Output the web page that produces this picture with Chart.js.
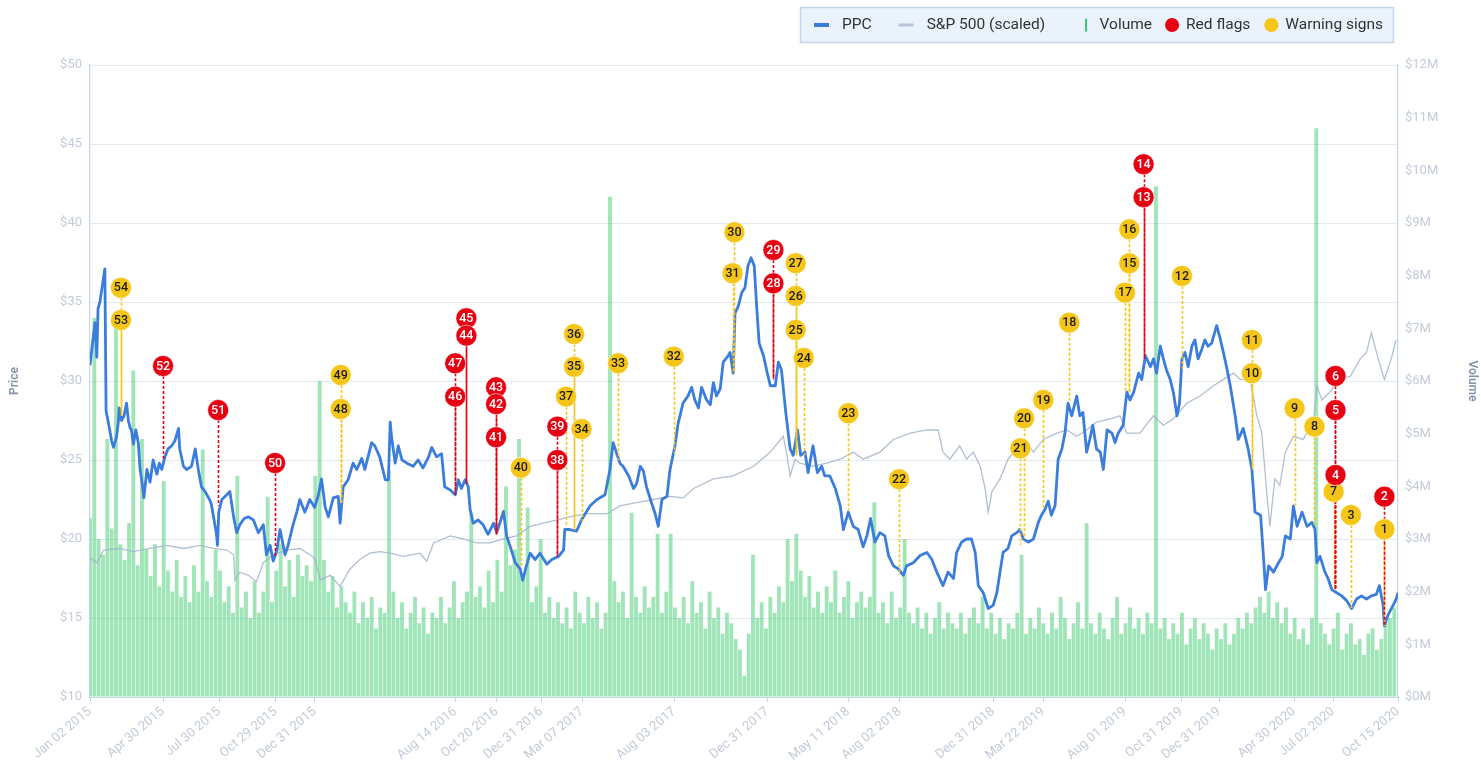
<!DOCTYPE html>
<html>
<head>
<meta charset="utf-8">
<script src="https://cdn.jsdelivr.net/npm/chart.js@4.4.1/dist/chart.umd.min.js"></script>
<style>
html,body{margin:0;padding:0;background:#ffffff;}
#wrap{width:1481px;height:765px;position:relative;}
canvas{display:block;}
</style>
</head>
<body>
<div id="wrap"><canvas id="c" width="1481" height="765"></canvas></div>
<script>
// ---------------- DATA (days counted from 2015-01-02) ----------------
const startDate = '2015-01-02';
const endDay = 2113; // 2020-10-15

const xTickDates = ['2015-01-02','2015-04-30','2015-07-30','2015-10-29','2015-12-31','2016-08-14','2016-10-20','2016-12-31','2017-03-07','2017-08-03','2017-12-31','2018-05-11','2018-08-02','2018-12-31','2019-03-22','2019-08-01','2019-10-31','2019-12-31','2020-04-30','2020-07-02','2020-10-15'];
const xTickLabels = ['Jan 02 2015','Apr 30 2015','Jul 30 2015','Oct 29 2015','Dec 31 2015','Aug 14 2016','Oct 20 2016','Dec 31 2016','Mar 07 2017','Aug 03 2017','Dec 31 2017','May 11 2018','Aug 02 2018','Dec 31 2018','Mar 22 2019','Aug 01 2019','Oct 31 2019','Dec 31 2019','Apr 30 2020','Jul 02 2020','Oct 15 2020'];

// PPC close price: [day, price]
const ppcPoints = [
[0,31.0],[8,33.7],[11,31.5],[13,34.6],[16,35.0],[19,35.8],[24,37.1],[26,28.1],[30,27.3],[35,26.2],
[38,25.8],[43,26.5],[46,27.5],[47,28.3],[51,27.5],[55,27.8],[59,28.6],[62,27.5],[65,27.0],[67,26.9],
[70,26.0],[74,26.9],[78,26.1],[81,24.4],[85,23.3],[87,22.6],[92,24.4],[97,23.6],[102,25.0],[108,24.1],
[112,24.8],[116,24.4],[121,25.2],[126,25.7],[132,25.9],[137,26.2],[143,27.0],[145,25.7],[151,24.6],[156,24.4],
[164,24.6],[170,25.7],[175,24.4],[180,23.3],[186,23.0],[193,22.5],[196,22.2],[204,20.4],[206,19.6],[208,21.7],
[213,22.5],[221,22.8],[226,23.0],[232,21.4],[237,20.4],[242,20.9],[249,21.3],[256,21.4],[264,21.2],[272,20.4],
[280,20.9],[285,19.0],[291,19.6],[296,18.6],[302,19.3],[307,20.6],[315,19.0],[320,19.6],[328,20.9],[334,21.7],
[339,22.5],[347,21.7],[355,22.5],[363,22.0],[369,22.8],[374,23.8],[380,22.0],[385,21.4],[393,22.6],[401,22.7],
[404,21.0],[409,23.3],[417,23.75],[425,24.8],[431,24.4],[439,25.1],[444,24.4],[455,26.1],[460,25.9],[468,25.2],
[477,23.75],[482,23.75],[485,27.4],[487,26.5],[493,24.8],[498,25.9],[504,25.0],[512,24.8],[522,24.6],[530,25.0],
[538,24.5],[547,25.2],[552,25.8],[560,25.2],[568,25.4],[573,23.3],[582,23.1],[590,22.8],[595,23.75],[600,23.2],
[606,23.75],[611,23.3],[614,21.9],[619,21.0],[627,21.2],[635,20.9],[643,20.3],[652,21.0],[657,20.4],[662,21.0],
[668,21.75],[673,20.2],[679,19.5],[687,18.5],[695,18.1],[699,17.4],[705,18.3],[711,19.1],[719,18.7],[727,19.1],
[738,18.4],[746,18.7],[757,18.9],[765,19.3],[767,20.6],[775,20.6],[786,20.5],[794,21.2],[800,21.6],[808,22.1],
[819,22.5],[832,22.8],[840,24.4],[845,26.1],[851,25.4],[856,24.8],[861,24.6],[870,24.0],[878,23.2],[883,23.5],
[889,24.6],[894,24.3],[899,23.3],[907,22.3],[913,21.6],[918,20.8],[924,22.5],[932,22.7],[937,24.4],[945,25.9],
[950,27.3],[958,28.6],[966,29.05],[972,29.6],[977,28.8],[983,28.3],[988,29.6],[996,28.8],[1002,28.5],[1007,29.9],
[1012,29.05],[1018,29.5],[1023,31.2],[1031,31.6],[1034,31.8],[1039,30.5],[1042,34.3],[1047,34.7],[1053,35.6],[1058,35.9],
[1063,37.3],[1068,37.8],[1073,37.3],[1077,34.7],[1081,32.4],[1088,31.6],[1093,30.7],[1099,29.7],[1107,29.7],[1112,31.2],
[1117,30.7],[1124,28.0],[1131,25.7],[1136,25.3],[1143,26.9],[1148,25.3],[1155,25.5],[1160,24.2],[1168,25.9],[1175,24.2],
[1182,24.6],[1187,24.0],[1195,24.0],[1204,23.2],[1212,22.1],[1217,20.6],[1225,21.7],[1233,20.8],[1241,20.6],[1249,19.5],
[1255,20.2],[1261,21.3],[1268,19.8],[1276,20.4],[1284,20.2],[1290,18.95],[1298,18.3],[1306,18.1],[1314,17.7],[1319,18.3],
[1330,18.5],[1341,18.95],[1352,19.15],[1360,18.7],[1368,17.9],[1378,17.05],[1386,17.9],[1395,17.5],[1400,19.15],[1408,19.8],
[1416,20.0],[1424,20.0],[1430,19.15],[1435,17.05],[1443,16.6],[1451,15.6],[1459,15.8],[1465,16.6],[1470,17.9],[1475,19.15],
[1483,19.4],[1489,20.2],[1497,20.4],[1502,20.6],[1508,20.0],[1516,19.8],[1524,20.0],[1532,21.05],[1537,21.5],[1543,21.9],
[1548,22.4],[1553,21.5],[1559,22.1],[1564,25.05],[1570,25.7],[1575,26.7],[1580,28.6],[1586,27.8],[1594,29.05],[1599,27.8],
[1604,28.0],[1610,25.5],[1615,26.3],[1620,27.2],[1626,25.7],[1632,25.5],[1637,24.4],[1643,26.9],[1651,26.7],[1656,26.1],
[1661,26.7],[1669,27.2],[1675,29.3],[1680,28.8],[1686,29.3],[1694,30.5],[1699,30.1],[1705,31.6],[1713,30.9],[1718,31.4],
[1723,30.5],[1729,32.2],[1734,31.4],[1739,30.7],[1745,30.1],[1750,29.3],[1756,27.8],[1760,28.6],[1764,31.4],[1769,31.8],
[1774,30.9],[1780,32.2],[1785,32.6],[1790,31.4],[1796,32.0],[1801,32.6],[1806,32.2],[1812,32.4],[1820,33.5],[1825,32.8],
[1831,31.8],[1836,30.9],[1842,29.7],[1850,27.8],[1855,26.3],[1863,27.0],[1871,25.7],[1877,24.4],[1882,21.7],[1891,21.5],
[1896,18.7],[1899,16.8],[1904,18.3],[1912,17.9],[1920,18.5],[1926,18.9],[1931,20.2],[1939,20.0],[1944,22.1],[1950,20.8],
[1958,21.7],[1966,20.8],[1974,21.05],[1979,20.6],[1982,18.5],[1987,18.9],[1995,17.9],[2000,17.5],[2006,16.8],[2014,16.6],
[2022,16.4],[2030,16.1],[2038,15.6],[2046,16.2],[2054,16.4],[2062,16.2],[2070,16.4],[2078,16.5],[2083,17.05],[2089,15.8],
[2091,14.5],[2097,15.2],[2105,15.8],[2110,16.2],[2113,16.6]
];

// S&P 500 rescaled to the price axis: [day, value]
const spxPoints = [
[0,18.8],[11,18.5],[22,19.3],[48,19.4],[70,19.2],[97,19.4],[124,19.6],[151,19.4],[178,19.6],[199,19.4],
[221,19.3],[232,19.0],[234,17.4],[242,17.9],[256,17.7],[269,17.3],[280,18.5],[296,19.0],[318,19.3],[339,19.4],
[355,19.0],[363,18.8],[372,17.4],[388,17.7],[404,17.0],[420,18.1],[436,18.7],[452,19.1],[468,19.2],[485,19.1],
[506,18.9],[533,19.1],[544,18.6],[555,19.75],[582,20.2],[603,20.0],[625,19.75],[646,19.75],[668,20.0],[689,20.2],
[711,20.8],[732,21.0],[754,21.2],[775,21.4],[802,21.6],[835,21.6],[856,22.1],[883,22.3],[910,22.5],[937,22.7],
[958,22.6],[975,23.2],[1007,23.8],[1039,24.0],[1072,24.6],[1099,25.5],[1120,26.5],[1125,25.5],[1131,24.0],[1139,25.05],
[1147,24.8],[1168,24.6],[1190,24.8],[1212,25.05],[1233,25.5],[1249,25.05],[1276,25.5],[1298,26.3],[1325,26.7],[1352,26.9],
[1370,26.9],[1378,25.5],[1389,25.05],[1405,25.9],[1416,25.05],[1427,25.5],[1438,24.6],[1446,23.2],[1451,21.7],[1457,23.0],
[1470,23.8],[1483,25.05],[1497,25.7],[1513,26.1],[1524,25.5],[1540,26.3],[1562,26.7],[1578,26.9],[1594,26.5],[1610,26.9],
[1626,27.4],[1648,27.6],[1664,27.8],[1675,26.7],[1696,26.7],[1718,27.8],[1734,27.2],[1750,27.6],[1772,28.6],[1793,29.05],
[1815,29.7],[1831,30.1],[1847,30.5],[1858,30.1],[1874,30.1],[1885,27.8],[1893,26.7],[1901,22.9],[1906,20.8],[1914,23.8],
[1922,23.4],[1931,25.5],[1944,26.5],[1960,26.3],[1977,27.6],[1982,29.7],[1990,28.8],[2003,29.3],[2019,30.1],[2036,30.3],
[2052,31.4],[2062,31.8],[2070,33.05],[2081,31.4],[2091,30.1],[2102,31.4],[2110,32.6]
];

// Weekly traded volume in millions, one value per week starting 2015-01-02
const volumeWeekStepDays = 7;
const volumeM = [
3.4,7.2,3.0,2.7,4.9,3.2,7.0,2.9,2.6,3.3,
6.2,2.5,4.9,2.8,2.3,2.9,2.1,4.1,2.4,2.0,
2.6,1.9,2.3,1.8,2.5,2.0,4.7,2.2,1.9,2.8,
2.4,1.8,2.1,1.6,4.2,1.7,2.0,1.5,2.2,1.6,
2.0,3.8,1.8,2.4,2.9,2.1,2.6,1.9,2.7,2.3,
2.5,2.2,4.2,6.0,2.6,2.0,2.3,1.7,2.1,1.8,
1.6,2.0,1.4,1.8,1.5,1.9,1.3,1.7,1.6,4.3,
2.0,1.5,1.8,1.3,1.6,1.9,1.4,1.7,1.2,1.6,
1.5,1.9,1.4,1.7,2.2,1.5,1.8,2.0,3.5,1.9,
2.1,1.7,2.4,1.8,2.6,2.0,4.0,2.5,2.8,4.9,
2.3,3.6,1.8,2.1,3.0,1.6,1.9,1.5,1.8,1.4,
1.7,1.3,2.0,1.6,1.4,1.9,1.5,1.8,1.3,1.6,
9.5,2.2,1.8,2.0,1.5,3.5,1.9,1.6,2.1,1.7,
1.9,3.1,1.6,2.0,3.1,1.7,1.5,1.9,1.4,2.2,
1.6,1.8,1.3,2.0,1.5,1.7,1.2,1.6,1.4,1.1,
0.9,0.4,1.2,2.7,1.5,1.8,1.3,1.9,1.6,2.1,
1.8,3.0,2.2,3.1,2.4,1.9,2.3,1.7,2.0,1.6,
2.1,1.8,2.4,1.6,1.9,2.2,1.5,1.8,2.0,1.7,
1.9,3.7,1.6,1.8,1.4,2.0,1.5,1.7,3.0,1.6,
1.4,1.7,1.3,1.6,1.2,1.5,1.8,1.3,1.6,1.4,
1.3,1.6,1.2,1.5,1.7,1.4,1.9,1.3,1.6,1.2,
1.5,1.1,1.4,1.3,1.6,2.7,1.2,1.5,1.3,1.7,
1.4,1.2,1.6,1.3,1.9,1.5,1.1,1.4,1.8,1.3,
3.3,1.4,1.2,1.6,1.3,1.1,1.5,1.9,1.2,1.4,
1.7,1.3,1.5,1.2,1.6,1.4,9.7,1.3,1.5,1.1,
1.4,1.2,1.6,1.0,1.3,1.5,1.1,1.4,1.2,0.9,
1.3,1.1,1.4,1.0,1.2,1.5,1.3,1.6,1.4,1.7,
1.9,1.6,2.0,1.5,1.8,1.4,1.7,1.2,1.5,1.1,
1.3,1.0,1.5,10.8,1.4,1.2,1.0,1.3,1.6,0.9,
1.2,1.4,1.0,1.1,0.8,1.2,1.3,0.9,1.1,1.4,
1.5,1.7
];

// Markers: [number, day, level on price axis, price where the dashed stem ends]
const redFlags = [
[52,118,30.95,25.0],[51,207,28.16,22.1],[50,299,24.81,18.8],[47,590,31.12,22.8],[46,590,29.01,22.8],
[45,608,33.97,23.5],[44,608,32.87,23.5],[43,656,29.6,20.3],[42,656,28.54,20.3],[41,656,26.44,20.3],
[39,755,27.11,18.9],[38,755,25.0,18.9],[29,1104,38.29,30.1],[28,1104,36.18,30.1],[14,1702,43.72,31.4],
[13,1702,41.63,31.4],[6,2012,30.32,16.8],[5,2012,28.16,16.8],[4,2012,24.05,16.8],[2,2091,22.68,14.5]
];
const warningSigns = [
[54,50,35.9,27.8],[53,50,33.86,27.8],[49,405,30.38,22.2],[48,405,28.23,22.2],[40,696,24.51,18.3],
[37,769,29.01,20.8],[36,782,32.97,20.6],[35,782,30.9,20.6],[34,794,26.96,21.0],[33,853,31.12,25.0],
[32,943,31.54,25.4],[31,1038,36.82,30.5],[30,1041,39.41,30.5],[27,1140,37.45,25.3],[26,1140,35.38,25.3],
[25,1140,33.23,25.3],[24,1153,31.46,25.3],[23,1225,27.96,21.8],[22,1307,23.78,17.7],[21,1503,25.74,19.6],
[20,1509,27.64,20.0],[19,1540,28.8,21.9],[18,1582,33.69,28.6],[17,1672,35.59,29.3],[16,1679,39.6,29.3],
[15,1679,37.45,29.3],[12,1764,36.65,30.7],[11,1877,32.6,24.4],[10,1877,30.49,24.4],[9,1946,28.27,22.1],
[8,1978,27.11,20.8],[7,2009,22.99,16.8],[3,2037,21.52,15.6],[1,2091,20.61,14.5]
];

const priceTicks = {min:10, max:50, step:5};
const volumeTicks = {min:0, max:12, step:1};

// ---------------- HELPERS ----------------
const DAY0 = (() => { const [y,m,d] = startDate.split('-').map(Number); return Date.UTC(y,m-1,d); })();
function dayOf(iso){ const [y,m,d] = iso.split('-').map(Number); return Math.round((Date.UTC(y,m-1,d)-DAY0)/86400000); }
const xTickDays = xTickDates.map(dayOf);
const tickLabelByDay = {};
xTickDays.forEach((d,i)=>{ tickLabelByDay[d] = xTickLabels[i]; });

const COLORS = {
  ppc:'#3b7ddd', spx:'rgba(163,180,202,0.85)', vol:'rgba(64,204,114,0.5)',
  red:'#e60012', yellow:'#f5c518', grid:'#e4e9f1', axis:'#c6d4e9', tick:'#c3cbd8', title:'#8592a8'
};

// ---------------- PLUGINS ----------------
const stemPlugin = {
  id:'stems',
  afterDatasetDraw(chart, args){
    if (chart.data.datasets[args.index].label !== 'PPC') return;
    const x = chart.scales.x, y = chart.scales.y, ctx = chart.ctx;
    ctx.save();
    ctx.setLineDash([3,2]);
    ctx.lineWidth = 1.6;
    const draw = (list, color) => {
      ctx.strokeStyle = color;
      list.forEach(m => {
        const px = Math.round(x.getPixelForValue(m[1])) + 0.5;
        ctx.beginPath();
        ctx.moveTo(px, y.getPixelForValue(m[2]));
        ctx.lineTo(px, y.getPixelForValue(m[3]));
        ctx.stroke();
      });
    };
    draw(warningSigns, COLORS.yellow);
    draw(redFlags, COLORS.red);
    ctx.restore();
  }
};

const markerTextPlugin = {
  id:'markerText',
  afterDatasetDraw(chart, args){
    const ds = chart.data.datasets[args.index];
    if (!ds.markerNums) return;
    const ctx = chart.ctx;
    ctx.save();
    ctx.font = '500 12.5px Roboto, "Open Sans", sans-serif';
    ctx.textAlign = 'center';
    ctx.textBaseline = 'middle';
    ctx.fillStyle = ds.textColor;
    args.meta.data.forEach((el, i) => {
      ctx.fillText(String(ds.markerNums[i]), el.x, el.y + 0.5);
    });
    ctx.restore();
  }
};

const legendItems = [
  {text:'PPC', kind:'dash', color:COLORS.ppc, lw:4, gapAfter:27},
  {text:'S&P 500 (scaled)', kind:'dash', color:'#b9c5d5', lw:3, gapAfter:35},
  {text:'Volume', kind:'vline', color:'#2ecc71', lw:2, gapAfter:13},
  {text:'Red flags', kind:'dot', color:COLORS.red, gapAfter:14},
  {text:'Warning signs', kind:'dot', color:COLORS.yellow, gapAfter:0}
];
const boxLegendPlugin = {
  id:'boxLegend',
  afterDraw(chart){
    const ctx = chart.ctx;
    ctx.save();
    ctx.font = '15.5px Roboto, "Open Sans", sans-serif';
    const left = 800, top = 7, h = 36, cy = top + h/2;
    let x = left + 14;
    const plan = [];
    legendItems.forEach(it => {
      const p = {it};
      if (it.kind === 'dash'){ p.sx = x; x += 15; x += 13; }
      else if (it.kind === 'vline'){ x += 6; p.sx = x; x += 13.5; }
      else { p.sx = x + 7; x += 14; x += 7; }
      p.tx = x;
      x += ctx.measureText(it.text).width;
      x += it.gapAfter;
      plan.push(p);
    });
    const right = x + 11;
    ctx.fillStyle = '#eaf2fb';
    ctx.strokeStyle = '#c6d5ea';
    ctx.lineWidth = 1.5;
    ctx.fillRect(left, top, right - left, h);
    ctx.strokeRect(left + 0.5, top + 0.5, right - left - 1, h - 1);
    plan.forEach(p => {
      const it = p.it;
      if (it.kind === 'dash'){
        ctx.fillStyle = it.color;
        ctx.fillRect(p.sx, cy - it.lw/2, 15, it.lw);
      } else if (it.kind === 'vline'){
        ctx.fillStyle = it.color;
        ctx.fillRect(p.sx - 1, cy - 6.5, it.lw, 13);
      } else {
        ctx.fillStyle = it.color;
        ctx.beginPath(); ctx.arc(p.sx, cy, 7, 0, Math.PI*2); ctx.fill();
      }
      ctx.fillStyle = '#333333';
      ctx.textBaseline = 'middle';
      ctx.textAlign = 'left';
      ctx.fillText(it.text, p.tx, cy + 0.5);
    });
    ctx.restore();
  }
};

// ---------------- CHART ----------------
Chart.defaults.font.family = 'Roboto, "Open Sans", sans-serif';

const ppcData = ppcPoints.map(p => ({x:p[0], y:p[1]}));
const spxData = spxPoints.map(p => ({x:p[0], y:p[1]}));
const volData = volumeM.map((v,i) => ({x:i*volumeWeekStepDays, y:v}));

new Chart(document.getElementById('c'), {
  type:'line',
  data:{
    datasets:[
      {label:'Red flags', type:'line', data:redFlags.map(m=>({x:m[1], y:m[2]})), markerNums:redFlags.map(m=>m[0]),
       textColor:'#ffffff', showLine:false, pointRadius:10.5, pointHoverRadius:10.5, pointBackgroundColor:COLORS.red,
       pointBorderColor:'rgba(255,255,255,0.55)', pointBorderWidth:1, yAxisID:'y', order:0},
      {label:'Warning signs', type:'line', data:warningSigns.map(m=>({x:m[1], y:m[2]})), markerNums:warningSigns.map(m=>m[0]),
       textColor:'#1d1d1d', showLine:false, pointRadius:10.5, pointHoverRadius:10.5, pointBackgroundColor:COLORS.yellow,
       pointBorderColor:'rgba(255,255,255,0.55)', pointBorderWidth:1, yAxisID:'y', order:1},
      {label:'PPC', type:'line', data:ppcData, borderColor:COLORS.ppc, borderWidth:2.8, pointRadius:0,
       tension:0, yAxisID:'y', order:2, borderJoinStyle:'round'},
      {label:'S&P 500 (scaled)', type:'line', data:spxData, borderColor:COLORS.spx, borderWidth:1.3, pointRadius:0,
       tension:0, yAxisID:'y', order:3},
      {label:'Volume', type:'bar', data:volData, backgroundColor:COLORS.vol, borderWidth:0,
       barPercentage:0.88, categoryPercentage:1.0, yAxisID:'yVol', order:4}
    ]
  },
  options:{
    responsive:false,
    animation:false,
    events:[],
    layout:{padding:{top:65, left:0, right:0, bottom:0}},
    plugins:{legend:{display:false}, tooltip:{enabled:false}},
    scales:{
      x:{
        type:'linear', min:0, max:endDay, offset:false,
        grid:{display:true, drawOnChartArea:false, drawTicks:true, tickLength:5, color:COLORS.axis, offset:false},
        border:{display:true, color:COLORS.axis, width:1},
        afterBuildTicks(scale){ scale.ticks = xTickDays.map(v => ({value:v})); },
        afterFit(scale){ scale.height = 68; },
        ticks:{autoSkip:false, minRotation:40, maxRotation:40, color:COLORS.tick, font:{size:13},
               padding:2, callback:(v) => tickLabelByDay[v] || ''}
      },
      y:{
        type:'linear', position:'left', min:priceTicks.min, max:priceTicks.max,
        grid:{color:COLORS.grid, drawTicks:false, lineWidth:1},
        border:{display:true, color:COLORS.axis, width:1.2},
        afterFit(scale){ scale.width = 90; },
        ticks:{stepSize:priceTicks.step, color:COLORS.tick, font:{size:13}, padding:8, callback:(v)=>'$'+v},
        title:{display:true, text:'Price', color:COLORS.title, font:{size:12, weight:'600'}, padding:{top:8, bottom:0}}
      },
      yVol:{
        type:'linear', position:'right', min:volumeTicks.min, max:volumeTicks.max,
        grid:{drawOnChartArea:false, drawTicks:false},
        border:{display:true, color:COLORS.axis, width:1.2},
        afterFit(scale){ scale.width = 83; },
        ticks:{stepSize:volumeTicks.step, color:COLORS.tick, font:{size:13}, padding:7, callback:(v)=>'$'+v+'M'},
        title:{display:true, text:'Volume', color:COLORS.title, font:{size:12, weight:'600'}, padding:{top:2, bottom:0}}
      }
    }
  },
  plugins:[stemPlugin, markerTextPlugin, boxLegendPlugin]
});
</script>
</body>
</html>
